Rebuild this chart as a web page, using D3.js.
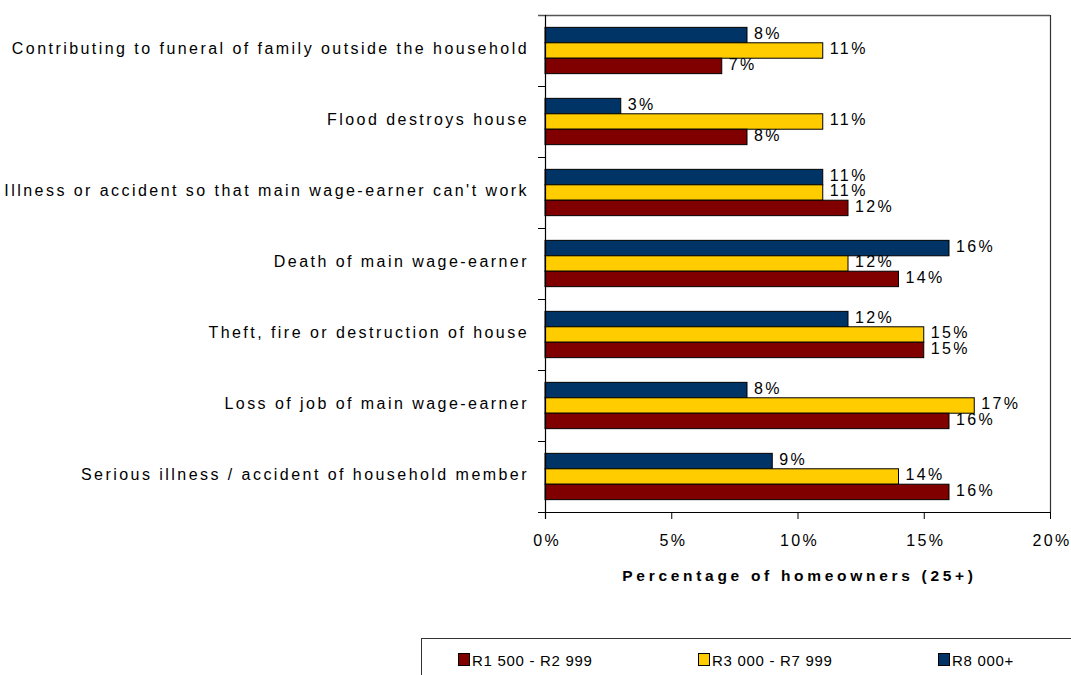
<!DOCTYPE html>
<html>
<head>
<meta charset="utf-8">
<script src="https://cdn.jsdelivr.net/npm/d3@7"></script>
<style>
  html, body { margin: 0; padding: 0; background: #fff; }
  svg { display: block; font-family: "Liberation Sans", Arial, sans-serif; }
  .lbl { font-size: 16px; letter-spacing: 2.45px; fill: #000; }
  .val { font-size: 16px; letter-spacing: 2.4px; fill: #000; }
  .leg { font-size: 15px; letter-spacing: 0.7px; fill: #000; }
</style>
</head>
<body>
<svg id="chart" width="1071" height="675"></svg>
<script>
// Risk events, listed from top to bottom of the chart
const categories = [
  "Contributing to funeral of family outside the household",
  "Flood destroys house",
  "Illness or accident so that main wage-earner can't work",
  "Death of main wage-earner",
  "Theft, fire or destruction of house",
  "Loss of job of main wage-earner",
  "Serious illness / accident of household member"
];
const seriesNames = ["R8 000+", "R3 000 - R7 999", "R1 500 - R2 999"];
const seriesColors = ["#003366", "#FFCC00", "#800000"];
// Percent of homeowners (25+) per income band
const valuesR8000 = [8, 3, 11, 16, 12, 8, 9];
const valuesR3000 = [11, 11, 11, 12, 15, 17, 14];
const valuesR1500 = [7, 8, 12, 14, 15, 16, 16];
const xTicks = [0, 5, 10, 15, 20];
const legendOrder = ["R1 500 - R2 999", "R3 000 - R7 999", "R8 000+"];

const seriesValues = [valuesR8000, valuesR3000, valuesR1500];

const svg = d3.select("#chart");
const plot = { left: 545, right: 1050, top: 15, bottom: 512 };

const x = d3.scaleLinear().domain([0, 20]).range([plot.left, plot.right]);
const y = d3.scaleBand().domain(categories).range([plot.top, plot.bottom]).paddingInner(0).paddingOuter(0);
const inner = d3.scaleBand().domain(seriesNames).range([0, y.bandwidth()]).paddingInner(0).paddingOuter(0.8);

// frame: top and right edges
svg.append("line").attr("x1", 538).attr("x2", plot.right).attr("y1", plot.top + 0.5).attr("y2", plot.top + 0.5)
  .attr("stroke", "#555").attr("stroke-width", 1.5);
svg.append("line").attr("x1", plot.right + 0.5).attr("x2", plot.right + 0.5).attr("y1", plot.top).attr("y2", plot.bottom)
  .attr("stroke", "#333").attr("stroke-width", 1.2);

// bars
const groups = svg.append("g").selectAll("g").data(categories).join("g")
  .attr("transform", d => `translate(0,${y(d)})`);

seriesNames.forEach((s, si) => {
  groups.append("rect")
    .attr("x", x(0))
    .attr("y", inner(s))
    .attr("width", (d, i) => x(seriesValues[si][i]) - x(0))
    .attr("height", inner.bandwidth())
    .attr("fill", seriesColors[si])
    .attr("stroke", "#000")
    .attr("stroke-width", 1);
});
seriesNames.forEach((s, si) => {
  groups.append("text")
    .attr("class", "val")
    .attr("x", (d, i) => x(seriesValues[si][i]) + 7)
    .attr("y", inner(s) + inner.bandwidth() / 2)
    .attr("dy", "0.23em")
    .text((d, i) => seriesValues[si][i] + "%");
});

// left axis (category)
const yAxis = svg.append("g").attr("transform", `translate(${plot.left},0)`);
yAxis.append("line").attr("x1", 0.5).attr("x2", 0.5).attr("y1", plot.top).attr("y2", plot.bottom + 7)
  .attr("stroke", "#000").attr("stroke-width", 1.2);
yAxis.selectAll("line.tick").data(categories.slice(1)).join("line")
  .attr("class", "tick")
  .attr("x1", -7).attr("x2", 0).attr("y1", d => y(d) + 0.5).attr("y2", d => y(d) + 0.5)
  .attr("stroke", "#000");
yAxis.selectAll("text").data(categories).join("text")
  .attr("class", "lbl")
  .attr("x", -16)
  .attr("y", d => y(d) + y.bandwidth() / 2)
  .attr("dy", "0.2em")
  .attr("text-anchor", "end")
  .text(d => d);

// bottom axis
const xAxis = d3.axisBottom(x).tickValues(xTicks).tickFormat(d => d + "%").tickSizeInner(7).tickSizeOuter(0).tickPadding(16);
const gx = svg.append("g").attr("transform", `translate(0,${plot.bottom})`).call(xAxis);
gx.attr("font-family", null).attr("font-size", null);
gx.select(".domain").attr("stroke", "#000").attr("d", `M${538},0.5H${plot.right}`);
gx.selectAll(".tick line").attr("stroke", "#000");
gx.selectAll(".tick text").attr("class", "val").attr("fill", "#000").attr("dx", "0.1em");

// axis title
svg.append("text")
  .attr("x", (plot.left + plot.right) / 2 + 2)
  .attr("y", 581)
  .attr("text-anchor", "middle")
  .attr("font-size", 15.5)
  .attr("font-weight", "bold")
  .attr("letter-spacing", "3.7px")
  .text("Percentage of homeowners (25+)");

// legend
const legend = svg.append("g");
legend.append("rect").attr("x", 421.5).attr("y", 638.5).attr("width", 700).attr("height", 60)
  .attr("fill", "#fff").attr("stroke", "#333").attr("stroke-width", 1);
const legendX = d3.scalePoint().domain(legendOrder).range([458, 938]);
const legendItems = legend.selectAll("g").data(legendOrder).join("g")
  .attr("transform", d => `translate(${legendX(d)},653)`);
legendItems.append("rect").attr("x", 0.5).attr("y", 0.5).attr("width", 11).attr("height", 12)
  .attr("fill", d => seriesColors[seriesNames.indexOf(d)])
  .attr("stroke", "#000").attr("stroke-width", 1);
legendItems.append("text").attr("class", "leg").attr("x", 14).attr("y", 12.5).text(d => d);
</script>
</body>
</html>
